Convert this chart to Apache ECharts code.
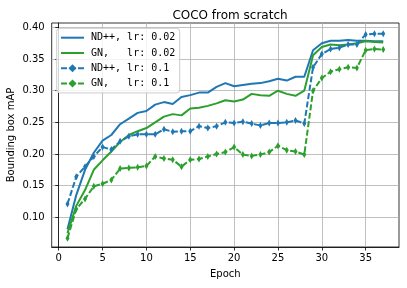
<!DOCTYPE html>
<html>
<head>
<meta charset="utf-8">
<script src="https://cdn.jsdelivr.net/npm/echarts@6/dist/echarts.min.js"></script>
<style>html,body{margin:0;padding:0;background:#fff}#c{width:407px;height:288px}</style>
</head>
<body>
<div id="c"></div>
<script>
const epochs = [1,2,3,4,5,6,7,8,9,10,11,12,13,14,15,16,17,18,19,20,21,22,23,24,25,26,27,28,29,30,31,32,33,34,35,36,37];
const ndpp002 = [0.081,0.135,0.175,0.202,0.221,0.230,0.247,0.256,0.265,0.268,0.278,0.282,0.279,0.290,0.293,0.297,0.297,0.306,0.312,0.307,0.309,0.311,0.312,0.315,0.319,0.316,0.322,0.322,0.364,0.375,0.379,0.379,0.380,0.379,0.379,0.378,0.378];
const gn002 = [0.075,0.118,0.143,0.175,0.190,0.204,0.219,0.230,0.236,0.241,0.250,0.259,0.263,0.261,0.272,0.273,0.276,0.280,0.285,0.283,0.286,0.295,0.293,0.292,0.300,0.295,0.292,0.300,0.356,0.369,0.373,0.372,0.373,0.375,0.378,0.377,0.376];
const ndpp01 = [0.121,0.164,0.180,0.196,0.211,0.207,0.220,0.228,0.231,0.231,0.231,0.239,0.235,0.236,0.236,0.244,0.241,0.244,0.250,0.249,0.251,0.248,0.245,0.249,0.249,0.250,0.253,0.248,0.337,0.358,0.366,0.368,0.373,0.373,0.389,0.390,0.390];
const gn01 = [0.067,0.113,0.129,0.149,0.153,0.159,0.177,0.178,0.179,0.181,0.196,0.193,0.191,0.180,0.191,0.192,0.196,0.200,0.203,0.211,0.199,0.197,0.199,0.203,0.213,0.206,0.204,0.199,0.300,0.320,0.330,0.334,0.337,0.336,0.364,0.366,0.365];
const seriesNames = ['ND++, lr: 0.02', 'GN,   lr: 0.02', 'ND++, lr: 0.1', 'GN,   lr: 0.1'];
const xTicks = [0,5,10,15,20,25,30,35];
const yTicks = [0.10,0.15,0.20,0.25,0.30,0.35,0.40];

const BLUE = '#1f77b4', GREEN = '#2ca02c';
const pair = arr => epochs.map((e,i)=>[e, arr[i]]);
const chart = echarts.init(document.getElementById('c'), null, {renderer:'canvas'});
const fontMain = 'DejaVu Sans';
function mk(name, arr, color, dashed){
  return {
    name, type:'line', data: pair(arr), animation:false,
    showSymbol: dashed, symbol: dashed ? 'diamond' : 'none', symbolSize:[4,7], showAllSymbol:true,
    itemStyle:{color, borderWidth:0},
    lineStyle:{color, width:2, type: dashed ? [6,2.5] : 'solid'},
    emphasis:{disabled:true}
  };
}
chart.setOption({
  animation:false,
  backgroundColor:'#fff',
  title:{text:'COCO from scratch', left:225, top:5, textAlign:'center',
    textStyle:{fontFamily:fontMain, fontSize:12, fontWeight:'normal', color:'#000'}},
  grid:{left:51.7, right:8, top:23, bottom:41, show:true, borderColor:'#000', borderWidth:0.8,
    backgroundColor:'transparent', containLabel:false, outerBoundsMode:'none'},
  legend:{
    orient:'vertical', left:56.7, top:28.3,
    data: [
      {name: seriesNames[0], itemStyle:{opacity:0}},
      {name: seriesNames[1], itemStyle:{opacity:0}},
      {name: seriesNames[2]},
      {name: seriesNames[3]}
    ],
    itemWidth:23, itemHeight:10, itemGap:5.3,
    padding:[4.4,4.4,4.3,3.3],
    backgroundColor:'rgba(255,255,255,0.8)', borderColor:'#cccccc', borderWidth:1, borderRadius:3,
    textStyle:{fontFamily:'DejaVu Sans Mono', fontSize:10, color:'#000', padding:[0,0,0,2]}
  },
  xAxis:{
    type:'value', min:-0.8, max:38.8,
    name:'Epoch', nameLocation:'middle', nameGap:22, nameMoveOverlap:false,
    nameTextStyle:{fontFamily:fontMain, fontSize:10, color:'#000'},
    axisLine:{show:true, lineStyle:{color:'#000', width:0.8}},
    axisTick:{show:true, inside:false, length:3.5, lineStyle:{color:'#000', width:0.8}, customValues: xTicks},
    axisLabel:{fontFamily:fontMain, fontSize:10, color:'#000', margin:6, customValues: xTicks},
    splitLine:{show:true, lineStyle:{color:'#b0b0b0', width:0.8}}
  },
  yAxis:{
    type:'value', min:0.053, max:0.407,
    name:'Bounding box mAP', nameLocation:'middle', nameGap:35, nameMoveOverlap:false,
    nameTextStyle:{fontFamily:fontMain, fontSize:10, color:'#000'},
    axisLine:{show:true, lineStyle:{color:'#000', width:0.8}},
    axisTick:{show:true, inside:false, length:3.5, lineStyle:{color:'#000', width:0.8}, customValues: yTicks},
    axisLabel:{fontFamily:fontMain, fontSize:10, color:'#000', margin:7, customValues: yTicks,
      formatter: v => v.toFixed(2)},
    splitLine:{show:true, lineStyle:{color:'#b0b0b0', width:0.8}}
  },
  series:[
    mk(seriesNames[0], ndpp002, BLUE, false),
    mk(seriesNames[1], gn002, GREEN, false),
    mk(seriesNames[2], ndpp01, BLUE, true),
    mk(seriesNames[3], gn01, GREEN, true)
  ]
});
</script>
</body>
</html>
